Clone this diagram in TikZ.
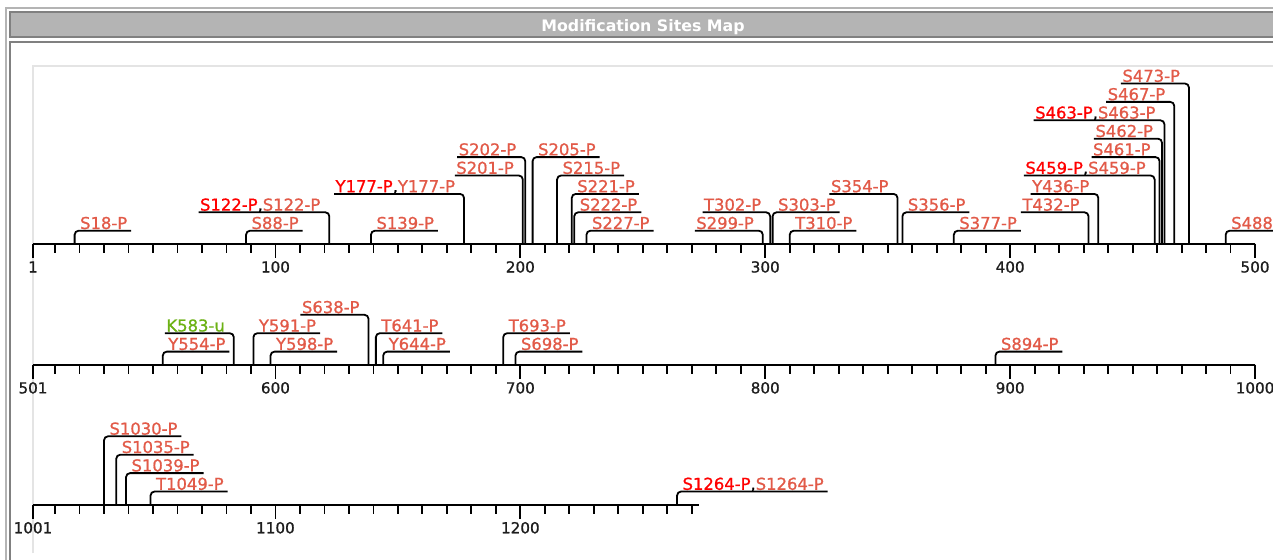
\documentclass[tikz,border=0pt]{standalone}
\usepackage{fontspec}
\setmainfont{DejaVu Sans}
\newfontfamily\lblfont{DejaVu Sans}[FakeBold=0.9]
\definecolor{sal}{RGB}{226,90,72}
\definecolor{bred}{RGB}{255,0,0}
\definecolor{kgreen}{RGB}{108,178,20}
\definecolor{hdark}{RGB}{128,128,128}
\definecolor{hfill}{RGB}{180,180,180}
\definecolor{outerg}{RGB}{180,180,180}
\definecolor{panelg}{RGB}{228,228,228}
\definecolor{numc}{RGB}{30,30,30}
\newcommand\pxs{2.449}
\tikzset{
  lbl/.style={inner sep=0pt, outer sep=0pt, text=sal, font=\lblfont\fontsize{16.4}{18}\selectfont},
  brk/.style={draw=black, line width=1.8pt, rounded corners=4pt},
  axisline/.style={line width=2pt, black},
  tickline/.style={line width=1.8pt, black},
  num/.style={inner sep=0pt, outer sep=0pt, anchor=base, text=numc, font=\lblfont\fontsize{15.2}{18}\selectfont},
}
% #1 name, #2 pos, #3 row start, #4 axis y, #5 level, #6 text
\newcommand\siteR[6]{%
  \pgfmathsetmacro\sx{33+(#2-#3)*\pxs}%
  \pgfmathsetmacro\sy{#4-13-(#5-1)*18.4-1.7}%
  \coordinate (#1s) at (\sx,#4);
  \node[lbl, anchor=base west] (#1) at (\sx+5.5,\sy) {#6};
  \coordinate (#1e) at ([xshift=4pt,yshift=-1.7pt]#1.base east);
  \draw[brk] (#1s) |- (#1e);
}
\newcommand\siteL[6]{%
  \pgfmathsetmacro\sx{33+(#2-#3)*\pxs}%
  \pgfmathsetmacro\sy{#4-13-(#5-1)*18.4-1.7}%
  \coordinate (#1s) at (\sx,#4);
  \node[lbl, anchor=base east] (#1) at (\sx-9,\sy) {#6};
  \coordinate (#1w) at ([xshift=-1.5pt,yshift=-1.7pt]#1.base west);
  \draw[brk] (#1s) |- (#1w);
}
\begin{document}
\begin{tikzpicture}[x=1pt,y=-1pt]
\useasboundingbox (0,0) rectangle (1273,559);
\clip (0,0) rectangle (1273,559);
\fill[white] (0,0) rectangle (1273,559);
% frames
\draw[line width=2pt, outerg] (6,600) -- (6,7.6) -- (1300,7.6);
\draw[line width=2pt, draw=hdark, fill=hfill] (10,12.3) rectangle (1300,37);
\draw[line width=2pt, draw=hdark] (10,41.7) rectangle (1300,600);
\draw[line width=1.2pt, panelg] (33,553) -- (33,66) -- (1300,66);
\node[inner sep=0pt, anchor=base, text=white, font=\bfseries\fontsize{15.8}{18}\selectfont] (title) at (643,31.3) {Modification Sites Map};

% ---------- row 1 ----------
\def\ay{243.7}
\draw[axisline] (33,\ay) -- ({33+499*\pxs},\ay);
\foreach \p in {10,20,...,500} \draw[tickline] ({33+(\p-1)*\pxs},\ay) -- ++(0,9.5);
\foreach \p in {1,100,200,300,400,500} {
  \draw[tickline] ({33+(\p-1)*\pxs},\ay) -- ++(0,14);
  \node[num] (n\p) at ({33+(\p-1)*\pxs},\ay+28.8) {\p};
}
\siteR{a18}{18}{1}{\ay}{1}{S18-P}
\siteR{a88}{88}{1}{\ay}{1}{S88-P}
\siteL{a122}{122}{1}{\ay}{2}{{\color{bred}S122-P}{\color{black},}S122-P}
\siteR{a139}{139}{1}{\ay}{1}{S139-P}
\siteL{a177}{177}{1}{\ay}{3}{{\color{bred}Y177-P}{\color{black},}Y177-P}
\siteL{a201}{201}{1}{\ay}{4}{S201-P}
\siteL{a202}{202}{1}{\ay}{5}{S202-P}
\siteR{a205}{205}{1}{\ay}{5}{S205-P}
\siteR{a215}{215}{1}{\ay}{4}{S215-P}
\siteR{a221}{221}{1}{\ay}{3}{S221-P}
\siteR{a222}{222}{1}{\ay}{2}{S222-P}
\siteR{a227}{227}{1}{\ay}{1}{S227-P}
\siteL{a299}{299}{1}{\ay}{1}{S299-P}
\siteL{a302}{302}{1}{\ay}{2}{T302-P}
\siteR{a303}{303}{1}{\ay}{2}{S303-P}
\siteR{a310}{310}{1}{\ay}{1}{T310-P}
\siteL{a354}{354}{1}{\ay}{3}{S354-P}
\siteR{a356}{356}{1}{\ay}{2}{S356-P}
\siteR{a377}{377}{1}{\ay}{1}{S377-P}
\siteL{a432}{432}{1}{\ay}{2}{T432-P}
\siteL{a436}{436}{1}{\ay}{3}{Y436-P}
\siteL{a459}{459}{1}{\ay}{4}{{\color{bred}S459-P}{\color{black},}S459-P}
\siteL{a461}{461}{1}{\ay}{5}{S461-P}
\siteL{a462}{462}{1}{\ay}{6}{S462-P}
\siteL{a463}{463}{1}{\ay}{7}{{\color{bred}S463-P}{\color{black},}S463-P}
\siteL{a467}{467}{1}{\ay}{8}{S467-P}
\siteL{a473}{473}{1}{\ay}{9}{S473-P}
\siteR{a488}{488}{1}{\ay}{1}{S488-P}

% ---------- row 2 ----------
\def\by{364.6}
\draw[axisline] (33,\by) -- ({33+499*\pxs},\by);
\foreach \p in {510,520,...,1000} \draw[tickline] ({33+(\p-501)*\pxs},\by) -- ++(0,9.5);
\foreach \p in {501,600,700,800,900,1000} {
  \draw[tickline] ({33+(\p-501)*\pxs},\by) -- ++(0,14);
  \node[num] (n\p) at ({33+(\p-501)*\pxs},\by+28.8) {\p};
}
\siteR{b554}{554}{501}{\by}{1}{Y554-P}
\siteL{b583}{583}{501}{\by}{2}{\color{kgreen}K583-u}
\siteR{b591}{591}{501}{\by}{2}{Y591-P}
\siteR{b598}{598}{501}{\by}{1}{Y598-P}
\siteL{b638}{638}{501}{\by}{3}{S638-P}
\siteR{b641}{641}{501}{\by}{2}{T641-P}
\siteR{b644}{644}{501}{\by}{1}{Y644-P}
\siteR{b693}{693}{501}{\by}{2}{T693-P}
\siteR{b698}{698}{501}{\by}{1}{S698-P}
\siteR{b894}{894}{501}{\by}{1}{S894-P}

% ---------- row 3 ----------
\def\cy{504.5}
\draw[axisline] (33,\cy) -- ({33+272*\pxs},\cy);
\foreach \p in {1010,1020,...,1270} \draw[tickline] ({33+(\p-1001)*\pxs},\cy) -- ++(0,9.5);
\foreach \p in {1001,1100,1200} {
  \draw[tickline] ({33+(\p-1001)*\pxs},\cy) -- ++(0,14);
  \node[num] (n\p) at ({33+(\p-1001)*\pxs},\cy+28.8) {\p};
}
\siteR{c1030}{1030}{1001}{\cy}{4}{S1030-P}
\siteR{c1035}{1035}{1001}{\cy}{3}{S1035-P}
\siteR{c1039}{1039}{1001}{\cy}{2}{S1039-P}
\siteR{c1049}{1049}{1001}{\cy}{1}{T1049-P}
\siteR{c1264}{1264}{1001}{\cy}{1}{{\color{bred}S1264-P}{\color{black},}S1264-P}
\end{tikzpicture}
\end{document}
